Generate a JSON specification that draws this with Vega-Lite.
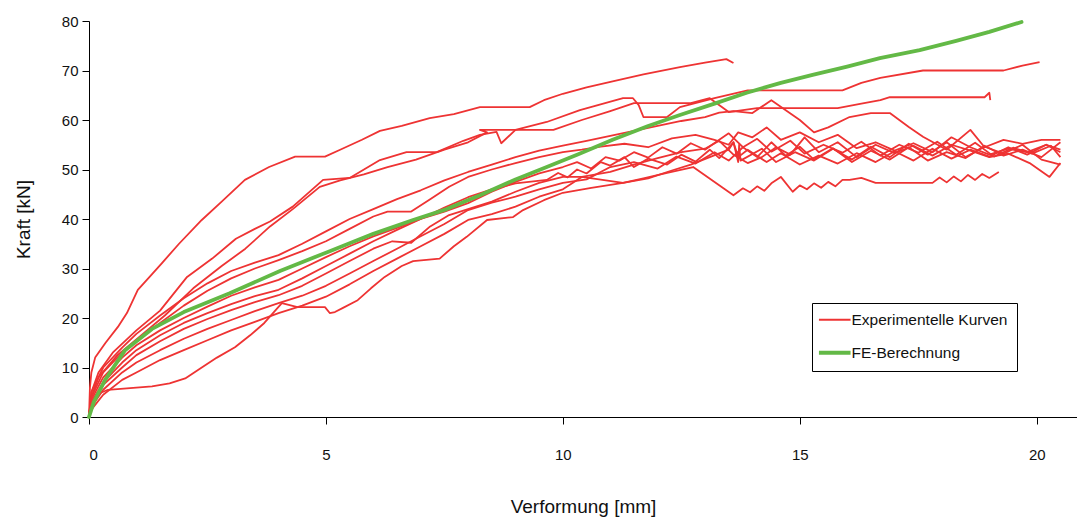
{
 "$schema": "https://vega.github.io/schema/vega-lite/v6.json",
 "width": 988, "height": 396,
 "autosize": {"type": "none"},
 "padding": {"left": 89, "top": 21, "right": 0, "bottom": 102},
 "config": {
  "view": {"stroke": null},
  "font": "Liberation Sans",
  "axis": {"grid": false, "domainColor": "#000", "tickColor": "#000", "labelColor": "#111", "titleColor": "#111", "labelFontSize": 15, "titleFontSize": 19, "titleFontWeight": "normal", "tickSize": 7, "domainWidth": 1, "tickWidth": 1}
 },
 "datasets": {
  "exp": [
   {"c":"A","x":0,"y":0},{"c":"A","x":0.02,"y":6},{"c":"A","x":0.05,"y":9},{"c":"A","x":0.13,"y":12},{"c":"A","x":0.35,"y":15},{"c":"A","x":0.61,"y":18.2},{"c":"A","x":0.8,"y":21},{"c":"A","x":1.03,"y":25.7},{"c":"A","x":1.25,"y":28},{"c":"A","x":1.54,"y":31.1},{"c":"A","x":1.9,"y":35},{"c":"A","x":2.38,"y":39.8},{"c":"A","x":2.8,"y":43.5},{"c":"A","x":3.29,"y":47.9},{"c":"A","x":3.8,"y":50.5},{"c":"A","x":4.35,"y":52.6},{"c":"A","x":4.98,"y":52.6},{"c":"A","x":5.3,"y":54},{"c":"A","x":5.76,"y":56},{"c":"A","x":6.14,"y":57.8},{"c":"A","x":6.6,"y":58.8},{"c":"A","x":7.19,"y":60.4},{"c":"A","x":7.7,"y":61.2},{"c":"A","x":8.25,"y":62.6},{"c":"A","x":9.3,"y":62.6},{"c":"A","x":9.6,"y":64},{"c":"A","x":10,"y":65.3},{"c":"A","x":10.5,"y":66.6},{"c":"A","x":11.05,"y":67.8},{"c":"A","x":11.7,"y":69.2},{"c":"A","x":12.47,"y":70.7},{"c":"A","x":13.0,"y":71.6},{"c":"A","x":13.45,"y":72.3},{"c":"A","x":13.6,"y":71.5},

   {"c":"B","x":0,"y":0},{"c":"B","x":0.05,"y":5},{"c":"B","x":0.2,"y":9},{"c":"B","x":0.5,"y":13},{"c":"B","x":1.0,"y":17.5},{"c":"B","x":1.5,"y":21.5},{"c":"B","x":2.07,"y":28.3},{"c":"B","x":2.6,"y":32},{"c":"B","x":3.1,"y":36},{"c":"B","x":3.5,"y":38},{"c":"B","x":3.82,"y":39.5},{"c":"B","x":4.3,"y":42.5},{"c":"B","x":4.94,"y":47.9},{"c":"B","x":5.5,"y":48.3},{"c":"B","x":6.14,"y":51.9},{"c":"B","x":6.7,"y":53.5},{"c":"B","x":7.34,"y":53.5},{"c":"B","x":7.9,"y":55.8},{"c":"B","x":8.25,"y":57},{"c":"B","x":8.6,"y":57.6},{"c":"B","x":8.7,"y":55.3},{"c":"B","x":9.0,"y":58},{"c":"B","x":9.66,"y":59.6},{"c":"B","x":10.36,"y":62},{"c":"B","x":11.27,"y":64.4},{"c":"B","x":11.48,"y":64.4},{"c":"B","x":11.6,"y":63},{"c":"B","x":11.7,"y":60.6},{"c":"B","x":12.2,"y":60.6},{"c":"B","x":12.47,"y":62.6},{"c":"B","x":13.2,"y":64.4},{"c":"B","x":13.9,"y":66},{"c":"B","x":15.9,"y":66},{"c":"B","x":16.3,"y":67.5},{"c":"B","x":16.7,"y":68.5},{"c":"B","x":17.6,"y":70},{"c":"B","x":19.3,"y":70},{"c":"B","x":19.7,"y":71},{"c":"B","x":20.06,"y":71.7},

   {"c":"C","x":0,"y":0},{"c":"C","x":0.05,"y":4},{"c":"C","x":0.2,"y":8},{"c":"C","x":0.6,"y":12.5},{"c":"C","x":1.1,"y":16.5},{"c":"C","x":1.6,"y":20.5},{"c":"C","x":2.2,"y":26},{"c":"C","x":2.8,"y":30.5},{"c":"C","x":3.3,"y":34},{"c":"C","x":3.82,"y":38.5},{"c":"C","x":4.3,"y":42},{"c":"C","x":4.87,"y":46.5},{"c":"C","x":5.3,"y":47.8},{"c":"C","x":5.8,"y":49},{"c":"C","x":6.3,"y":50.5},{"c":"C","x":6.9,"y":52},{"c":"C","x":7.5,"y":54},{"c":"C","x":8.0,"y":55.5},{"c":"C","x":8.4,"y":57.5},{"c":"C","x":8.25,"y":58},{"c":"C","x":9.8,"y":58},{"c":"C","x":10.4,"y":60},{"c":"C","x":11.0,"y":61.8},{"c":"C","x":11.5,"y":63.4},{"c":"C","x":12.7,"y":63.4},{"c":"C","x":13.1,"y":64.4},{"c":"C","x":13.5,"y":61.6},{"c":"C","x":14.1,"y":62.4},{"c":"C","x":15.8,"y":62.4},{"c":"C","x":16.3,"y":63.3},{"c":"C","x":16.7,"y":64},{"c":"C","x":16.9,"y":64.6},{"c":"C","x":18.9,"y":64.6},{"c":"C","x":19.0,"y":65.5},{"c":"C","x":19.02,"y":64},

   {"c":"D","x":0,"y":0},{"c":"D","x":0.05,"y":5},{"c":"D","x":0.3,"y":10},{"c":"D","x":0.7,"y":14},{"c":"D","x":1.0,"y":16.8},{"c":"D","x":1.5,"y":20.5},{"c":"D","x":2.0,"y":24},{"c":"D","x":2.5,"y":27},{"c":"D","x":3.0,"y":29.5},{"c":"D","x":3.5,"y":31.2},{"c":"D","x":4.0,"y":32.7},{"c":"D","x":4.5,"y":35},{"c":"D","x":5.0,"y":37.5},{"c":"D","x":5.5,"y":40},{"c":"D","x":6.0,"y":42},{"c":"D","x":6.5,"y":44},{"c":"D","x":7.0,"y":45.8},{"c":"D","x":7.5,"y":47.8},{"c":"D","x":8.0,"y":49.5},{"c":"D","x":8.5,"y":51},{"c":"D","x":9.0,"y":52.5},{"c":"D","x":9.5,"y":53.8},{"c":"D","x":10.0,"y":54.8},{"c":"D","x":10.5,"y":55.8},{"c":"D","x":11.0,"y":56.8},{"c":"D","x":11.5,"y":57.8},{"c":"D","x":12.0,"y":58.8},{"c":"D","x":12.5,"y":59.8},{"c":"D","x":13.0,"y":60.6},{"c":"D","x":13.3,"y":61.5},{"c":"D","x":13.6,"y":61.8},{"c":"D","x":14.0,"y":61.4},{"c":"D","x":14.4,"y":64},{"c":"D","x":15.0,"y":60},{"c":"D","x":15.3,"y":57.5},{"c":"D","x":15.6,"y":58.5},{"c":"D","x":16.05,"y":60.6},{"c":"D","x":16.5,"y":61.4},{"c":"D","x":16.9,"y":61.4},{"c":"D","x":17.3,"y":58.6},{"c":"D","x":17.6,"y":56.6},{"c":"D","x":18.1,"y":54},{"c":"D","x":18.6,"y":58},{"c":"D","x":18.9,"y":54.5},{"c":"D","x":19.3,"y":56},{"c":"D","x":19.7,"y":55.2},{"c":"D","x":20.1,"y":56},{"c":"D","x":20.5,"y":56},

   {"c":"E","x":0,"y":0},{"c":"E","x":0.05,"y":4},{"c":"E","x":0.3,"y":9},{"c":"E","x":0.7,"y":13},{"c":"E","x":1.0,"y":15.5},{"c":"E","x":1.5,"y":19},{"c":"E","x":2.0,"y":22.5},{"c":"E","x":2.5,"y":25.5},{"c":"E","x":3.0,"y":28},{"c":"E","x":3.5,"y":30},{"c":"E","x":4.0,"y":31.7},{"c":"E","x":4.5,"y":33.5},{"c":"E","x":5.0,"y":35.5},{"c":"E","x":5.5,"y":38},{"c":"E","x":6.0,"y":40.5},{"c":"E","x":6.3,"y":41.5},{"c":"E","x":6.8,"y":41.5},{"c":"E","x":7.2,"y":44},{"c":"E","x":7.6,"y":46.5},{"c":"E","x":8.0,"y":48.5},{"c":"E","x":8.5,"y":50},{"c":"E","x":9.0,"y":51.3},{"c":"E","x":9.5,"y":52.5},{"c":"E","x":10.0,"y":53.5},{"c":"E","x":10.4,"y":54},{"c":"E","x":10.8,"y":54.6},{"c":"E","x":11.3,"y":55.2},{"c":"E","x":11.8,"y":54.5},{"c":"E","x":12.3,"y":56.3},{"c":"E","x":12.8,"y":57},{"c":"E","x":13.2,"y":56},{"c":"E","x":13.5,"y":55},{"c":"E","x":13.7,"y":57.5},{"c":"E","x":14.0,"y":56.5},{"c":"E","x":14.3,"y":58.5},{"c":"E","x":14.6,"y":56},{"c":"E","x":15.0,"y":57.5},{"c":"E","x":15.4,"y":55.5},{"c":"E","x":15.8,"y":57},{"c":"E","x":16.2,"y":54.3},{"c":"E","x":16.6,"y":55.5},{"c":"E","x":17.0,"y":53.8},{"c":"E","x":17.4,"y":55.3},{"c":"E","x":17.8,"y":53.5},{"c":"E","x":18.2,"y":56.5},{"c":"E","x":18.6,"y":54.5},{"c":"E","x":19.0,"y":53},{"c":"E","x":19.4,"y":54.2},{"c":"E","x":19.8,"y":53.5},{"c":"E","x":20.2,"y":55},{"c":"E","x":20.5,"y":53.5},

   {"c":"F","x":0,"y":0},{"c":"F","x":0.05,"y":3.5},{"c":"F","x":0.3,"y":8},{"c":"F","x":0.7,"y":12},{"c":"F","x":1.0,"y":14.5},{"c":"F","x":1.5,"y":17.5},{"c":"F","x":2.0,"y":20},{"c":"F","x":2.5,"y":22.3},{"c":"F","x":3.0,"y":24.5},{"c":"F","x":3.5,"y":26.2},{"c":"F","x":4.0,"y":27.7},{"c":"F","x":4.5,"y":30},{"c":"F","x":5.0,"y":32.3},{"c":"F","x":5.5,"y":34.5},{"c":"F","x":6.0,"y":36.5},{"c":"F","x":6.5,"y":38.2},{"c":"F","x":7.0,"y":40},{"c":"F","x":7.5,"y":41.5},{"c":"F","x":8.0,"y":43.2},{"c":"F","x":8.5,"y":45.5},{"c":"F","x":9.0,"y":47.5},{"c":"F","x":9.5,"y":49.2},{"c":"F","x":10.0,"y":50.5},{"c":"F","x":10.3,"y":51.5},{"c":"F","x":10.6,"y":50.2},{"c":"F","x":10.9,"y":52.5},{"c":"F","x":11.2,"y":51.8},{"c":"F","x":11.5,"y":53.5},{"c":"F","x":11.8,"y":52.4},{"c":"F","x":12.1,"y":54.5},{"c":"F","x":12.4,"y":53.2},{"c":"F","x":12.7,"y":55.3},{"c":"F","x":13.0,"y":54},{"c":"F","x":13.3,"y":56},{"c":"F","x":13.5,"y":57.3},{"c":"F","x":13.8,"y":54.5},{"c":"F","x":14.1,"y":56.2},{"c":"F","x":14.4,"y":53.6},{"c":"F","x":14.8,"y":55.8},{"c":"F","x":15.1,"y":53.2},{"c":"F","x":15.5,"y":55},{"c":"F","x":15.9,"y":53.4},{"c":"F","x":16.3,"y":55.6},{"c":"F","x":16.7,"y":52.8},{"c":"F","x":17.1,"y":55},{"c":"F","x":17.5,"y":53.4},{"c":"F","x":17.9,"y":55.6},{"c":"F","x":18.3,"y":53},{"c":"F","x":18.7,"y":55.4},{"c":"F","x":19.1,"y":52.6},{"c":"F","x":19.5,"y":54.4},{"c":"F","x":19.9,"y":53.2},{"c":"F","x":20.3,"y":54.8},{"c":"F","x":20.5,"y":52.5},

   {"c":"G","x":0,"y":0},{"c":"G","x":0.05,"y":3},{"c":"G","x":0.3,"y":7},{"c":"G","x":0.7,"y":11},{"c":"G","x":1.0,"y":13.5},{"c":"G","x":1.5,"y":16.5},{"c":"G","x":2.0,"y":19},{"c":"G","x":2.5,"y":21},{"c":"G","x":3.0,"y":22.8},{"c":"G","x":3.5,"y":24.4},{"c":"G","x":4.0,"y":25.7},{"c":"G","x":4.5,"y":28},{"c":"G","x":5.0,"y":30.5},{"c":"G","x":5.5,"y":33},{"c":"G","x":6.0,"y":35.5},{"c":"G","x":6.5,"y":37.8},{"c":"G","x":7.0,"y":40},{"c":"G","x":7.5,"y":42.3},{"c":"G","x":8.0,"y":44.4},{"c":"G","x":8.5,"y":46},{"c":"G","x":9.0,"y":47.2},{"c":"G","x":9.66,"y":47.9},{"c":"G","x":9.9,"y":49.3},{"c":"G","x":10.1,"y":48.4},{"c":"G","x":10.3,"y":50},{"c":"G","x":10.5,"y":49.2},{"c":"G","x":10.8,"y":51.5},{"c":"G","x":11.0,"y":50.8},{"c":"G","x":11.3,"y":52.5},{"c":"G","x":11.5,"y":50.5},{"c":"G","x":11.8,"y":52.2},{"c":"G","x":12.2,"y":51},{"c":"G","x":12.5,"y":53},{"c":"G","x":12.8,"y":51.6},{"c":"G","x":13.1,"y":54},{"c":"G","x":13.3,"y":52.3},{"c":"G","x":13.6,"y":55.5},{"c":"G","x":13.7,"y":51.5},{"c":"G","x":13.72,"y":55},{"c":"G","x":13.75,"y":51.8},{"c":"G","x":14.2,"y":54.2},{"c":"G","x":14.5,"y":51.5},{"c":"G","x":14.9,"y":53.5},{"c":"G","x":15.3,"y":51.8},{"c":"G","x":15.7,"y":54.2},{"c":"G","x":16.1,"y":52},{"c":"G","x":16.5,"y":54.6},{"c":"G","x":16.9,"y":52.5},{"c":"G","x":17.3,"y":55.2},{"c":"G","x":17.7,"y":53},{"c":"G","x":18.1,"y":55.5},{"c":"G","x":18.5,"y":52.5},{"c":"G","x":18.9,"y":54.6},{"c":"G","x":19.3,"y":53.2},{"c":"G","x":19.7,"y":55},{"c":"G","x":20.1,"y":52},{"c":"G","x":20.5,"y":51},

   {"c":"H","x":0,"y":0},{"c":"H","x":0.05,"y":2.5},{"c":"H","x":0.3,"y":6.5},{"c":"H","x":0.7,"y":10},{"c":"H","x":1.0,"y":12.5},{"c":"H","x":1.5,"y":15.3},{"c":"H","x":2.0,"y":17.8},{"c":"H","x":2.5,"y":19.8},{"c":"H","x":3.0,"y":21.6},{"c":"H","x":3.5,"y":23.2},{"c":"H","x":4.0,"y":24.6},{"c":"H","x":4.5,"y":26.5},{"c":"H","x":5.0,"y":29},{"c":"H","x":5.5,"y":31.5},{"c":"H","x":6.0,"y":34},{"c":"H","x":6.4,"y":35.5},{"c":"H","x":6.8,"y":35.2},{"c":"H","x":7.2,"y":38.5},{"c":"H","x":7.6,"y":40.8},{"c":"H","x":8.0,"y":42},{"c":"H","x":8.5,"y":43.5},{"c":"H","x":9.0,"y":45.5},{"c":"H","x":9.5,"y":47.3},{"c":"H","x":10.0,"y":48.5},{"c":"H","x":10.4,"y":48.5},{"c":"H","x":11.0,"y":49.5},{"c":"H","x":11.5,"y":51},{"c":"H","x":12.0,"y":52.3},{"c":"H","x":12.5,"y":53.5},{"c":"H","x":13.0,"y":54.2},{"c":"H","x":13.3,"y":55.8},{"c":"H","x":13.6,"y":53},{"c":"H","x":13.9,"y":51.3},{"c":"H","x":14.2,"y":52.5},{"c":"H","x":14.5,"y":54.5},{"c":"H","x":14.8,"y":53},{"c":"H","x":15.1,"y":56.5},{"c":"H","x":15.4,"y":53.5},{"c":"H","x":15.8,"y":55.5},{"c":"H","x":16.2,"y":52.5},{"c":"H","x":16.6,"y":55},{"c":"H","x":17.0,"y":53.3},{"c":"H","x":17.4,"y":54.8},{"c":"H","x":17.8,"y":52.8},{"c":"H","x":18.2,"y":55},{"c":"H","x":18.6,"y":53.8},{"c":"H","x":19.0,"y":52.5},{"c":"H","x":19.4,"y":53.2},{"c":"H","x":19.85,"y":51.3},{"c":"H","x":20.27,"y":48.5},{"c":"H","x":20.5,"y":51.3},

   {"c":"K","x":0,"y":0},{"c":"K","x":0.05,"y":2},{"c":"K","x":0.3,"y":5.5},{"c":"K","x":0.7,"y":9},{"c":"K","x":1.0,"y":11},{"c":"K","x":1.5,"y":13.5},{"c":"K","x":2.0,"y":15.8},{"c":"K","x":2.5,"y":17.8},{"c":"K","x":3.0,"y":19.6},{"c":"K","x":3.5,"y":21.4},{"c":"K","x":4.0,"y":23},{"c":"K","x":4.5,"y":24.5},{"c":"K","x":5.0,"y":26.5},{"c":"K","x":5.5,"y":29},{"c":"K","x":6.0,"y":31.5},{"c":"K","x":6.5,"y":34},{"c":"K","x":7.0,"y":36.5},{"c":"K","x":7.5,"y":39},{"c":"K","x":8.0,"y":41.8},{"c":"K","x":8.5,"y":43.3},{"c":"K","x":9.0,"y":44.5},{"c":"K","x":9.5,"y":46},{"c":"K","x":10.0,"y":47.3},{"c":"K","x":10.5,"y":48},{"c":"K","x":11.0,"y":50.5},{"c":"K","x":11.5,"y":51.5},{"c":"K","x":12.0,"y":50.2},{"c":"K","x":12.4,"y":52.6},{"c":"K","x":12.8,"y":51.2},{"c":"K","x":13.2,"y":53.5},{"c":"K","x":13.5,"y":51.8},{"c":"K","x":13.8,"y":54.5},{"c":"K","x":14.1,"y":52.5},{"c":"K","x":14.4,"y":55.5},{"c":"K","x":14.7,"y":52.8},{"c":"K","x":15.0,"y":54.6},{"c":"K","x":15.3,"y":52},{"c":"K","x":15.7,"y":54.3},{"c":"K","x":16.1,"y":51.5},{"c":"K","x":16.5,"y":53.8},{"c":"K","x":16.9,"y":52},{"c":"K","x":17.3,"y":54.5},{"c":"K","x":17.7,"y":51.8},{"c":"K","x":18.1,"y":53.5},{"c":"K","x":18.5,"y":52.3},{"c":"K","x":18.9,"y":54.8},{"c":"K","x":19.3,"y":52.8},{"c":"K","x":19.7,"y":54},{"c":"K","x":20.1,"y":52.5},{"c":"K","x":20.5,"y":55.5},

   {"c":"L","x":0,"y":0},{"c":"L","x":0.05,"y":1.5},{"c":"L","x":0.3,"y":4.5},{"c":"L","x":0.7,"y":7.5},{"c":"L","x":1.0,"y":9},{"c":"L","x":1.5,"y":11.5},{"c":"L","x":2.0,"y":13.5},{"c":"L","x":2.5,"y":15.5},{"c":"L","x":3.0,"y":17.5},{"c":"L","x":3.5,"y":19.2},{"c":"L","x":4.0,"y":21},{"c":"L","x":4.5,"y":22.5},{"c":"L","x":5.0,"y":24.3},{"c":"L","x":5.5,"y":26.8},{"c":"L","x":6.0,"y":29.5},{"c":"L","x":6.5,"y":32},{"c":"L","x":7.0,"y":34.5},{"c":"L","x":7.5,"y":37},{"c":"L","x":8.0,"y":39.8},{"c":"L","x":8.5,"y":41},{"c":"L","x":9.0,"y":42.5},{"c":"L","x":9.5,"y":44.5},{"c":"L","x":10.0,"y":46},{"c":"L","x":10.4,"y":48.5},{"c":"L","x":11.27,"y":47.3},{"c":"L","x":11.8,"y":48.2},{"c":"L","x":12.3,"y":49.8},{"c":"L","x":12.7,"y":51},{"c":"L","x":13.1,"y":52.5},{"c":"L","x":13.5,"y":54},{"c":"L","x":13.6,"y":55.5},{"c":"L","x":13.7,"y":52.5},{"c":"L","x":13.9,"y":54},{"c":"L","x":14.3,"y":51.5},{"c":"L","x":14.6,"y":53.3},{"c":"L","x":15.0,"y":51},{"c":"L","x":15.4,"y":52.8},{"c":"L","x":15.8,"y":51.2},{"c":"L","x":16.2,"y":53.3},{"c":"L","x":16.6,"y":51.5},{"c":"L","x":17.0,"y":53.7},{"c":"L","x":17.4,"y":51.8},{"c":"L","x":17.8,"y":54.2},{"c":"L","x":18.2,"y":52.2},{"c":"L","x":18.6,"y":54},{"c":"L","x":19.0,"y":52.6},{"c":"L","x":19.4,"y":54.5},{"c":"L","x":19.8,"y":53},{"c":"L","x":20.2,"y":55},{"c":"L","x":20.5,"y":54},

   {"c":"I","x":0,"y":0},{"c":"I","x":0.03,"y":2.5},{"c":"I","x":0.15,"y":4.5},{"c":"I","x":0.4,"y":5.5},{"c":"I","x":0.8,"y":5.8},{"c":"I","x":1.33,"y":6.2},{"c":"I","x":1.7,"y":6.8},{"c":"I","x":2.03,"y":7.8},{"c":"I","x":2.38,"y":10},{"c":"I","x":2.7,"y":12},{"c":"I","x":3.08,"y":14.1},{"c":"I","x":3.4,"y":16.5},{"c":"I","x":3.7,"y":19},{"c":"I","x":4.07,"y":23},{"c":"I","x":4.4,"y":22.2},{"c":"I","x":4.98,"y":22.2},{"c":"I","x":5.08,"y":21},{"c":"I","x":5.19,"y":21.2},{"c":"I","x":5.35,"y":22},{"c":"I","x":5.67,"y":23.6},{"c":"I","x":5.95,"y":26},{"c":"I","x":6.24,"y":28.3},{"c":"I","x":6.6,"y":30.5},{"c":"I","x":6.84,"y":31.5},{"c":"I","x":7.4,"y":32},{"c":"I","x":7.7,"y":34.5},{"c":"I","x":7.97,"y":36.4},{"c":"I","x":8.4,"y":39.8},{"c":"I","x":8.95,"y":40.4},{"c":"I","x":9.16,"y":41.8},{"c":"I","x":9.6,"y":43.8},{"c":"I","x":10,"y":45.3},{"c":"I","x":10.6,"y":46.3},{"c":"I","x":11.27,"y":47.3},{"c":"I","x":11.7,"y":48.2},{"c":"I","x":12.2,"y":49.3},{"c":"I","x":12.75,"y":50.5},{"c":"I","x":13.6,"y":44.8},{"c":"I","x":13.8,"y":46.2},{"c":"I","x":13.95,"y":45.4},{"c":"I","x":14.1,"y":46.6},{"c":"I","x":14.25,"y":45.7},{"c":"I","x":14.4,"y":47.2},{"c":"I","x":14.6,"y":48.5},{"c":"I","x":14.85,"y":45.5},{"c":"I","x":15.0,"y":46.8},{"c":"I","x":15.15,"y":46},{"c":"I","x":15.3,"y":47.2},{"c":"I","x":15.45,"y":46.3},{"c":"I","x":15.6,"y":47.5},{"c":"I","x":15.75,"y":46.6},{"c":"I","x":15.9,"y":47.9},{"c":"I","x":16.05,"y":47.9},{"c":"I","x":16.3,"y":48.3},{"c":"I","x":16.6,"y":47.3},{"c":"I","x":17.8,"y":47.3},{"c":"I","x":17.95,"y":48.4},{"c":"I","x":18.1,"y":47.4},{"c":"I","x":18.25,"y":48.6},{"c":"I","x":18.4,"y":47.6},{"c":"I","x":18.55,"y":48.9},{"c":"I","x":18.7,"y":47.9},{"c":"I","x":18.85,"y":49.1},{"c":"I","x":19.0,"y":48.3},{"c":"I","x":19.2,"y":49.5}
  ],
  "fe": [
   {"x":0,"y":0},{"x":0.1,"y":3},{"x":0.34,"y":7.5},{"x":0.76,"y":13.5},{"x":1.33,"y":17.8},{"x":2.0,"y":21.2},{"x":2.97,"y":25},{"x":4.03,"y":29.5},{"x":5.08,"y":33.5},{"x":6.0,"y":37},{"x":6.84,"y":39.8},{"x":7.55,"y":42},{"x":8.25,"y":44.8},{"x":9.0,"y":48},{"x":9.66,"y":50.5},{"x":10.3,"y":53},{"x":11.05,"y":56},{"x":11.8,"y":58.8},{"x":12.47,"y":61},{"x":13.2,"y":63.3},{"x":13.88,"y":65.5},{"x":14.6,"y":67.5},{"x":15.27,"y":69.1},{"x":16.0,"y":70.8},{"x":16.69,"y":72.5},{"x":17.53,"y":74.1},{"x":18.3,"y":76},{"x":19.0,"y":77.8},{"x":19.68,"y":79.8}
  ]
 },
 "layer": [
  {
   "data": {"name": "exp"},
   "mark": {"type": "line", "strokeWidth": 1.8, "strokeJoin": "round"},
   "encoding": {
    "x": {"field": "x", "type": "quantitative", "scale": {"domain": [0, 20.85], "nice": false, "zero": false},
          "axis": {"values": [0, 5, 10, 15, 20], "title": "Verformung [mm]", "labelPadding": 23, "titlePadding": 35}},
    "y": {"field": "y", "type": "quantitative", "scale": {"domain": [0, 80], "nice": false},
          "axis": {"values": [0, 10, 20, 30, 40, 50, 60, 70, 80], "title": "Kraft [kN]", "labelPadding": 4, "titlePadding": 28}},
    "detail": {"field": "c"},
    "order": {"value": null},
    "color": {"datum": "Experimentelle Kurven",
              "scale": {"domain": ["Experimentelle Kurven", "FE-Berechnung"], "range": ["#ee3333", "#63b946"]},
              "legend": {"title": null, "orient": "none", "legendX": 723, "legendY": 282, "strokeColor": "#000", "fillColor": "#fff", "padding": 9, "symbolType": "stroke", "symbolSize": 1000, "symbolStrokeWidth": 2, "symbolOffset": 6, "labelFontSize": 15.5, "labelLimit": 400, "labelColor": "#111", "rowPadding": 15, "labelOffset": 9,
                         "encode": {"symbols": {"update": {"strokeWidth": {"signal": "datum.value === 'FE-Berechnung' ? 4 : 2"}}}}}}
   }
  },
  {
   "data": {"name": "fe"},
   "mark": {"type": "line", "strokeWidth": 3.8, "strokeJoin": "round", "strokeCap": "round"},
   "encoding": {
    "x": {"field": "x", "type": "quantitative"},
    "y": {"field": "y", "type": "quantitative"},
    "order": {"value": null},
    "color": {"datum": "FE-Berechnung"}
   }
  }
 ]
}
